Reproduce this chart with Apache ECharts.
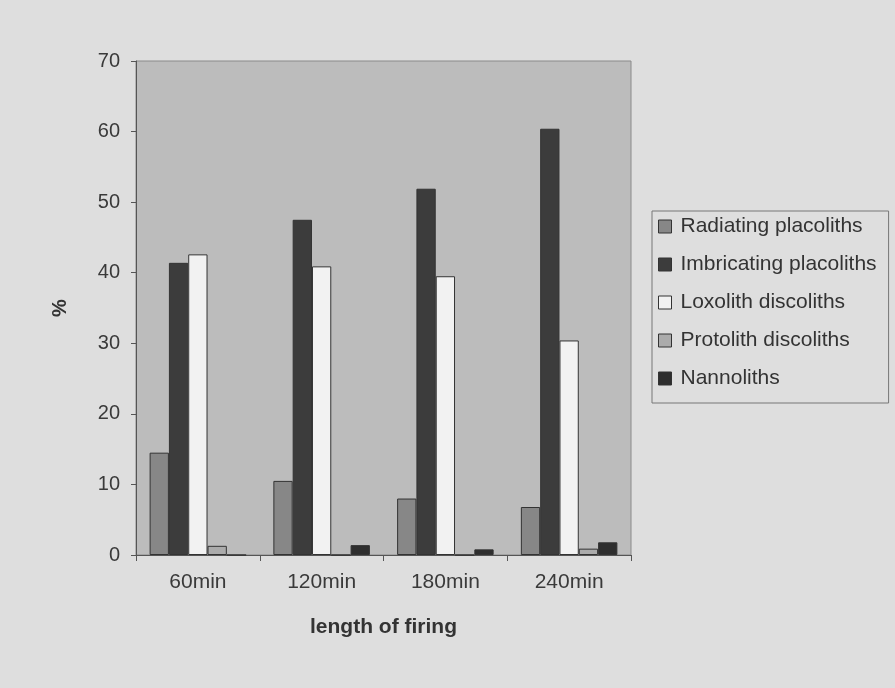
<!DOCTYPE html>
<html>
<head>
<meta charset="utf-8">
<script src="https://cdn.jsdelivr.net/npm/echarts@6/dist/echarts.min.js"></script>
<style>
html,body{margin:0;padding:0;background:#dedede;}
#c{width:895px;height:688px;}
</style>
</head>
<body>
<div id="c"></div>
<script>
const categories = ['60min', '120min', '180min', '240min'];
const radiating = [14.5, 10.5, 8.0, 6.8];
const imbricating = [41.4, 47.5, 51.9, 60.4];
const loxolith = [42.6, 40.9, 39.5, 30.4];
const protolith = [1.3, 0, 0, 0.9];
const nannoliths = [0, 1.4, 0.8, 1.8];
const yTicks = [0, 10, 20, 30, 40, 50, 60, 70];

const seriesNames = ['Radiating placoliths', 'Imbricating placoliths', 'Loxolith discoliths', 'Protolith discoliths', 'Nannoliths'];
const seriesData = [radiating, imbricating, loxolith, protolith, nannoliths];
const seriesColors = ['#878787', '#3c3c3c', '#f2f2f2', '#ababab', '#2e2e2e'];

const font = 'Arial, "Liberation Sans", sans-serif';
const chart = echarts.init(document.getElementById('c'), null, {renderer: 'canvas'});
chart.setOption({
  backgroundColor: '#dedede',
  animation: false,
  textStyle: {fontFamily: font},
  grid: {
    left: 136, top: 61, right: 264, bottom: 133,
    show: true, backgroundColor: '#bcbcbc', borderColor: '#8a8a8a', borderWidth: 1
  },
  legend: {
    orient: 'vertical',
    left: 652, top: 211,
    padding: [5, 12, 14, 6],
    itemGap: 17,
    itemWidth: 13, itemHeight: 13,
    itemStyle: {borderColor: '#333', borderWidth: 1},
    borderColor: '#777', borderWidth: 1,
    icon: 'rect',
    textStyle: {fontSize: 21, color: '#333', fontFamily: font, padding: [0, 0, 0, 4]},
    data: seriesNames
  },
  xAxis: {
    type: 'category',
    data: categories,
    name: 'length of firing',
    nameLocation: 'middle',
    nameGap: 62,
    nameTextStyle: {fontSize: 21, fontWeight: 'bold', color: '#333'},
    axisLine: {lineStyle: {color: '#555'}},
    axisTick: {show: true, length: 6, lineStyle: {color: '#555'}},
    axisLabel: {fontSize: 21, color: '#3a3a3a', margin: 17}
  },
  yAxis: {
    type: 'value',
    min: yTicks[0], max: yTicks[yTicks.length - 1], interval: 10,
    name: '%',
    nameLocation: 'middle',
    nameRotate: 90,
    nameGap: 66,
    nameTextStyle: {fontSize: 20, fontWeight: 'bold', color: '#333'},
    axisLine: {show: true, lineStyle: {color: '#555'}},
    axisTick: {show: true, length: 5, lineStyle: {color: '#555'}},
    splitLine: {show: false},
    axisLabel: {fontSize: 20, color: '#3a3a3a', margin: 16}
  },
  series: seriesNames.map((n, i) => ({
    name: n,
    type: 'bar',
    data: seriesData[i],
    barGap: '0%',
    barCategoryGap: '22%',
    itemStyle: {color: seriesColors[i], borderColor: '#333', borderWidth: 1}
  }))
});
</script>
</body>
</html>
